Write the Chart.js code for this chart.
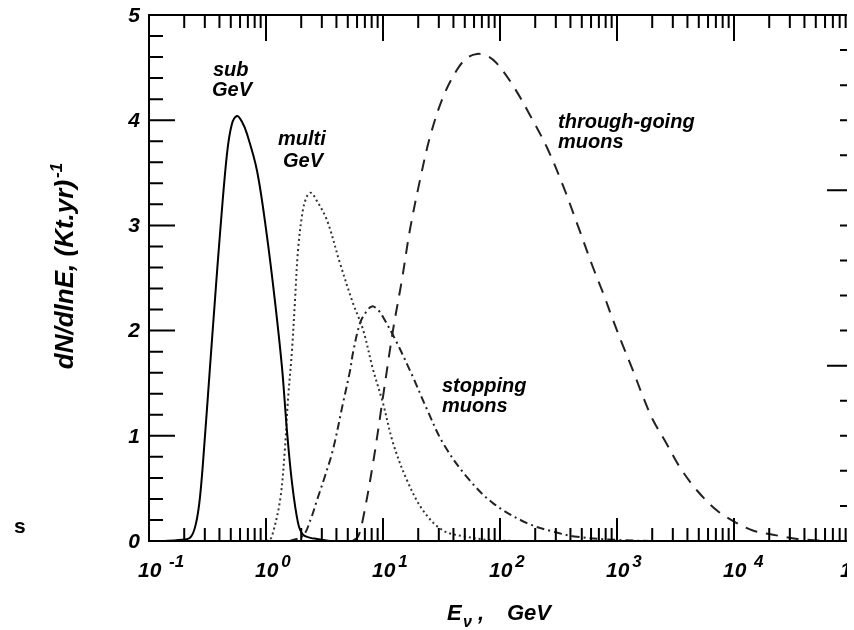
<!DOCTYPE html>
<html>
<head>
<meta charset="utf-8">
<script src="https://cdn.jsdelivr.net/npm/chart.js@4.4.0/dist/chart.umd.min.js"></script>
<style>
  html, body { margin: 0; padding: 0; background: #fff; }
  #caja { width: 854px; height: 630px; }
</style>
</head>
<body>
<div id="caja"><canvas id="grafico"></canvas></div>
<script>
// Valores (E en GeV, dN/dlnE en (Kt.yr)^-1)
const subE = [0.13, 0.18, 0.224, 0.25, 0.273, 0.301, 0.332, 0.366, 0.405, 0.464, 0.51, 0.565, 0.62, 0.688, 0.838, 1.01, 1.19, 1.37, 1.51, 1.67, 1.88, 2.07, 2.4, 2.73, 3.5];
const subV = [0, 0.01, 0.03, 0.15, 0.42, 1.0, 1.65, 2.29, 2.93, 3.68, 3.96, 4.04, 3.99, 3.87, 3.52, 2.93, 2.29, 1.65, 1.05, 0.55, 0.17, 0.06, 0.03, 0.02, 0];

const multiE = [0.9, 1.05, 1.12, 1.32, 1.45, 1.54, 1.67, 1.77, 1.88, 2.07, 2.25, 2.43, 2.7, 3.32, 4.29, 5.54, 6.75, 8.22, 10, 12.2, 16, 22, 32.6, 52, 80, 130];
const multiV = [0, 0.01, 0.04, 0.39, 0.87, 1.34, 1.82, 2.29, 2.77, 3.15, 3.28, 3.31, 3.24, 3.05, 2.64, 2.26, 2.01, 1.63, 1.31, 0.93, 0.58, 0.29, 0.10, 0.04, 0.01, 0];

const stopE = [1.6, 2.07, 2.4, 2.73, 3.2, 3.74, 4.55, 5.23, 5.54, 6.36, 7.2, 8.05, 9, 10, 13.2, 18, 23.8, 32.6, 52, 87, 170, 284, 455, 1000, 2000];
const stopV = [0, 0.05, 0.2, 0.39, 0.62, 0.87, 1.31, 1.62, 1.79, 2.07, 2.18, 2.23, 2.2, 2.13, 1.88, 1.56, 1.25, 0.93, 0.61, 0.36, 0.17, 0.09, 0.04, 0.01, 0];

const throughE = [5.5, 6.1, 6.63, 8.22, 10, 12.2, 14.5, 17, 20.7, 25.2, 32.6, 42.9, 52, 63.5, 78, 94, 129, 180, 252, 345, 455, 624, 759, 925, 1130, 1370, 1670, 2030, 2670, 3450, 4830, 7160, 10600, 14500, 21500, 35000, 60000];
const throughV = [0, 0.04, 0.17, 0.74, 1.37, 2.01, 2.48, 2.96, 3.43, 3.84, 4.22, 4.48, 4.59, 4.63, 4.61, 4.54, 4.33, 4.05, 3.74, 3.38, 3.02, 2.6, 2.36, 2.10, 1.85, 1.62, 1.37, 1.15, 0.92, 0.70, 0.48, 0.29, 0.17, 0.10, 0.06, 0.02, 0];

// Etiquetas de los ejes
const xDecadas = [-1, 0, 1, 2, 3, 4, 5];
const xExponentes = [' -1', '0', '1', '2', '3', ' 4', '5'];
const yValores = [0, 1, 2, 3, 4, 5];
const yEtiquetas = ['0', '1', '2', '3', '4', '5'];

const puntos = (es, vs) => es.map((e, i) => ({ x: e, y: vs[i] }));

const fuente = (px) => 'italic bold ' + px + 'px "Liberation Sans", Arial, sans-serif';

// Marco, marcas interiores y textos
const marco = {
  id: 'marco',
  afterDraw(chart) {
    const { ctx, chartArea: a, scales } = chart;
    const x = scales.x, y = scales.y, y2 = scales.y2;
    const corte = 847; // la figura original esta recortada aqui
    ctx.save();
    ctx.strokeStyle = '#000';
    ctx.fillStyle = '#000';
    ctx.lineWidth = 2;
    ctx.beginPath();
    ctx.moveTo(a.left, a.top - 1); ctx.lineTo(a.left, a.bottom + 1);
    ctx.moveTo(a.left - 1, a.bottom); ctx.lineTo(corte, a.bottom);
    ctx.moveTo(a.left - 1, a.top); ctx.lineTo(corte, a.top);
    ctx.stroke();

    // marcas del eje x (abajo y arriba)
    ctx.beginPath();
    for (let k = -1; k <= 5; k++) {
      for (let m = 1; m <= 9; m++) {
        const v = m * Math.pow(10, k);
        if (v > 1e5) break;
        const px = x.getPixelForValue(v);
        if (px > corte) continue;
        const mayor = m === 1;
        ctx.moveTo(px, a.bottom); ctx.lineTo(px, a.bottom - (mayor ? 23 : 13));
        ctx.moveTo(px, a.top); ctx.lineTo(px, a.top + (mayor ? 26 : 13));
      }
    }
    // marcas del eje y (izquierda)
    for (let i = 1; i < 25; i++) {
      const py = y.getPixelForValue(i * 0.2);
      const mayor = i % 5 === 0;
      ctx.moveTo(a.left, py); ctx.lineTo(a.left + (mayor ? 26 : 14), py);
    }
    // marcas del eje derecho
    for (let i = 1; i < 15; i++) {
      const py = y2.getPixelForValue(i * 0.2);
      const mayor = i % 5 === 0;
      ctx.moveTo(corte, py); ctx.lineTo(corte - (mayor ? 20 : 7), py);
    }
    ctx.stroke();

    // etiquetas del eje y
    ctx.font = fuente(21);
    ctx.textAlign = 'right';
    ctx.textBaseline = 'middle';
    yValores.forEach((v, i) => ctx.fillText(yEtiquetas[i], 140, y.getPixelForValue(v) + 1));

    // etiquetas del eje x: 10 con exponente
    ctx.save();
    ctx.beginPath();
    ctx.rect(0, 0, corte, 630);
    ctx.clip();
    ctx.textAlign = 'left';
    ctx.textBaseline = 'alphabetic';
    xDecadas.forEach((d, i) => {
      const px = x.getPixelForValue(Math.pow(10, d));
      ctx.font = fuente(21);
      const x0 = px - 11;
      ctx.fillText('10', x0, 577);
      const w = ctx.measureText('10').width;
      ctx.font = fuente(17);
      ctx.fillText(xExponentes[i], x0 + w + 3, 567);
    });
    ctx.restore();

    // titulo del eje x
    ctx.textAlign = 'left';
    ctx.textBaseline = 'alphabetic';
    ctx.font = fuente(22);
    ctx.fillText('E', 447, 620);
    ctx.font = fuente(16);
    ctx.fillText('ν', 463, 627);
    ctx.font = fuente(22);
    ctx.fillText(',', 478, 620);
    ctx.fillText('GeV', 507, 620);

    // titulo del eje y (girado)
    ctx.save();
    ctx.translate(73, 266);
    ctx.rotate(-Math.PI / 2);
    ctx.font = fuente(26);
    const base = 'dN/dlnE, (Kt.yr)';
    const wb = ctx.measureText(base).width;
    ctx.font = fuente(17);
    const we = ctx.measureText('-1').width;
    const inicio = -(wb + we + 2) / 2;
    ctx.font = fuente(26);
    ctx.fillText(base, inicio, 0);
    ctx.font = fuente(17);
    ctx.fillText('-1', inicio + wb + 2, -11);
    ctx.restore();

    // rotulos de las curvas
    ctx.font = fuente(20);
    ctx.fillText('sub', 213, 76);
    ctx.fillText('GeV', 212, 96);
    ctx.fillText('multi', 278, 145);
    ctx.fillText('GeV', 283, 167);
    ctx.fillText('through-going', 558, 128);
    ctx.fillText('muons', 558, 148);
    ctx.fillText('stopping', 442, 392);
    ctx.fillText('muons', 442, 412);

    // resto de texto recortado a la izquierda
    ctx.font = 'bold 21px "Liberation Sans", Arial, sans-serif';
    ctx.fillText('s', 14, 533);
    ctx.restore();
  }
};

new Chart(document.getElementById('grafico'), {
  type: 'line',
  data: {
    datasets: [
      {
        label: 'sub GeV',
        data: puntos(subE, subV),
        borderColor: '#000',
        borderWidth: 2,
      },
      {
        label: 'multi GeV',
        data: puntos(multiE, multiV),
        borderColor: '#333',
        borderWidth: 2,
        borderDash: [2, 3],
      },
      {
        label: 'stopping muons',
        data: puntos(stopE, stopV),
        borderColor: '#222',
        borderWidth: 2,
        borderDash: [8, 4, 2, 4],
      },
      {
        label: 'through-going muons',
        data: puntos(throughE, throughV),
        borderColor: '#222',
        borderWidth: 2,
        borderDash: [12, 9],
      },
    ],
  },
  options: {
    responsive: true,
    maintainAspectRatio: false,
    animation: false,
    layout: { padding: { top: 15, right: 3, left: 0, bottom: 0 } },
    elements: {
      point: { radius: 0 },
      line: { tension: 0.35, fill: false, capBezierPoints: true },
    },
    plugins: { legend: { display: false }, tooltip: { enabled: false } },
    scales: {
      x: {
        type: 'logarithmic',
        min: 0.1,
        max: 1e5,
        ticks: { display: false },
        grid: { display: false },
        border: { display: false },
        afterFit: (s) => { s.height = 89; },
      },
      y: {
        min: 0,
        max: 5,
        ticks: { display: false },
        grid: { display: false },
        border: { display: false },
        afterFit: (s) => { s.width = 149; },
      },
      y2: {
        position: 'right',
        min: 0,
        max: 3,
        display: false,
      },
    },
  },
  plugins: [marco],
});
</script>
</body>
</html>
